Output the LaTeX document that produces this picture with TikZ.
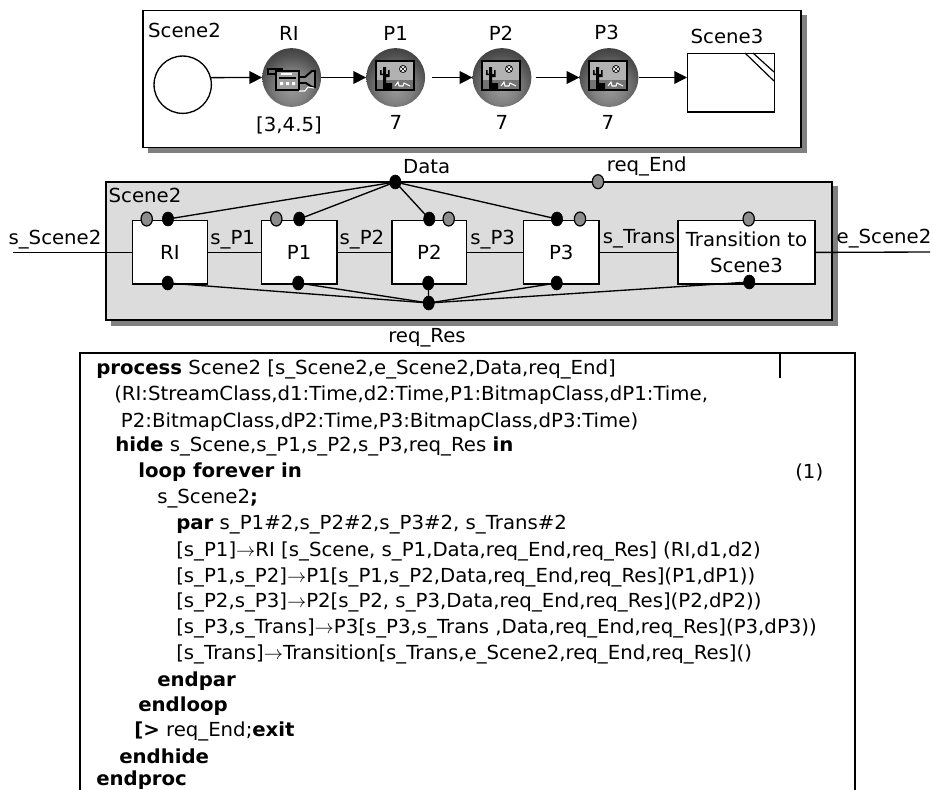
\documentclass[tikz,border=0pt]{standalone}
\usepackage{fontspec}
\setmainfont{DejaVu Sans}[FakeStretch=1.02]
\usetikzlibrary{arrows.meta,shapes.geometric}
\definecolor{portgray}{HTML}{8C8C8C}
\definecolor{shadowgray}{HTML}{808080}
\definecolor{panelgray}{HTML}{DCDCDC}
\pgfdeclareradialshading{ballsh}{\pgfpoint{0bp}{-10bp}}{color(0bp)=(black!40); color(14bp)=(black!50); color(26bp)=(black!68); color(40bp)=(black!82); color(100bp)=(black!85)}
\newcommand{\tsz}{\fontsize{14.5pt}{19pt}\selectfont}
\tikzset{
  panel/.style={draw=black,line width=1.4pt},
  flow/.style={draw=black,line width=1pt,-{Triangle[length=9.5pt,width=9.5pt]}},
  wire/.style={draw=black,line width=1pt},
  ball/.style={circle,minimum size=44pt,inner sep=0pt,shading=ballsh},
  pbox/.style={draw=black,line width=1.1pt,fill=white,inner sep=0pt,align=center,minimum height=47.5pt,font=\tsz},
  bport/.style={ellipse,fill=black,draw=black,inner sep=0pt,minimum width=8.5pt,minimum height=10.5pt},
  gport/.style={ellipse,fill=portgray,draw=black,line width=.9pt,inner sep=0pt,minimum width=8.5pt,minimum height=10.5pt},
  lab/.style={font=\tsz,inner sep=0pt},
  code/.style={font=\tsz,inner sep=0pt,anchor=base west},
}
\newcommand{\picicon}[1]{%
  \begin{scope}[shift={(#1)}]
    \fill[black] (-20,-17) rectangle (20,14);
    \fill[black!30] (-18,-15) rectangle (18,3);
    \fill[black!55] (-18,3) rectangle (18,12);
    \fill[black] (-12,12) -- (-12,-2) -- (-15,-2) -- (-15,-7) -- (-13.5,-7) -- (-13.5,-3.5) -- (-12,-3.5) -- (-12,-10) -- (-9,-10) -- (-9,-3) -- (-7,-3) -- (-7,-7) -- (-5.5,-7) -- (-5.5,0) -- (-9,0) -- (-9,6) -- (-3,6) -- (-3,12) -- cycle;
    \draw[black,line width=.6pt,fill=white] (8,-8) circle (3.5);
    \draw[black,line width=.5pt] (6,-10) -- (10,-6) (6,-6) -- (10,-10);
    \draw[white,line width=.8pt] (0,9) -- (3,5) -- (4,9) -- (8,9) -- (9,6) -- (15,9);
  \end{scope}}
\newcommand{\camicon}[1]{%
  \begin{scope}[shift={(#1)}]
    \draw[black,line width=1.2pt,fill=black!55] (-23,-8) rectangle (-9,-3);
    \draw[black,line width=1.4pt,fill=black!38] (-15,-6) rectangle (8,13);
    \fill[white] (-11,5) rectangle (-8,8) (-5,5) rectangle (-2,8) (1,5) rectangle (4,8);
    \fill[black] (-12,0) rectangle (5,2);
    \fill[white] (-10,-4) rectangle (1,-2);
    \draw[black,line width=1.4pt,fill=black!45] (8,0) -- (14,0) -- (21,-6) -- (24,-6) -- (24,10) -- (21,10) -- (15,6) -- (8,6) -- cycle;
    \draw[white,line width=.8pt] (8,14) -- (14,14) -- (17,10) -- (23,11);
  \end{scope}}
\begin{document}
\begin{tikzpicture}[x=.75pt,y=-.75pt]
\useasboundingbox (0,0) rectangle (933,790);
% top panel
\fill[shadowgray] (148,15) rectangle (806.5,153);
\node[panel,fill=white,minimum width=493.5pt,minimum height=102.8pt,inner sep=0pt,anchor=north west] (toppanel) at (142,9.5) {};
\node[lab] (tsc2) at (184.5,30.5) {Scene2};
\node[lab] (tri) at (289,33.5) {RI};
\node[lab] (tp1) at (395.7,33) {P1};
\node[lab] (tp2) at (501,33) {P2};
\node[lab] (tp3) at (606.7,32) {P3};
\node[lab] (tsc3) at (727,36.7) {Scene3};
\node[draw=black,line width=1pt,circle,fill=white,minimum size=43pt,inner sep=0pt] (s2) at (182.7,84.7) {};
\node[ball] (ri) at (291.7,77.5) {};
\node[ball] (p1) at (395.7,77.5) {};
\node[ball] (p2) at (502,77.5) {};
\node[ball] (p3) at (609,77.5) {};
\camicon{291,77}
\picicon{395,77}
\picicon{501,77}
\picicon{608,77}
\node[lab] (dri) at (289,125) {[3,4.5]};
\node[lab] (d1) at (396,122) {7};
\node[lab] (d2) at (502,122) {7};
\node[lab] (d3) at (608,122) {7};
\node[draw=black,line width=1.1pt,fill=white,minimum width=65pt,minimum height=44pt,inner sep=0pt,anchor=north west] (sc3) at (687,52.7) {};
\draw[black,line width=.9pt] (745,53) -- (774,81) (753,53) -- (774,72);
\draw[flow] (s2.14) -- (ri.west);
\draw[flow] (ri.east) -- (p1.west);
\draw[flow] ([xshift=5pt]p1.east) -- (p2.west);
\draw[flow] ([xshift=3pt]p2.east) -- (p3.west);
\draw[flow] (p3.east) -- (sc3.west |- p3.east);
% middle panel
\fill[shadowgray] (110.5,186) rectangle (838,326);
\node[draw=black,line width=1.2pt,fill=panelgray,minimum width=544.5pt,minimum height=103.5pt,inner sep=0pt,anchor=north west] (midpanel) at (105.3,181.3) {};
\coordinate (inL) at (13,252.5);
\coordinate (outR) at (930,252);
\node[pbox,minimum width=56.2pt,anchor=north west] (bri) at (131.7,220) {RI};
\node[pbox,minimum width=56.5pt,anchor=north west] (bp1) at (260.7,220) {P1};
\node[pbox,minimum width=56pt,anchor=north west] (bp2) at (391.3,220) {P2};
\node[pbox,minimum width=56.7pt,anchor=north west] (bp3) at (522.7,220) {P3};
\node[pbox,minimum width=102.7pt,anchor=north west] (btr) at (677.3,220) {Transition to\\Scene3};
\draw[wire] (inL) -- (bri.west |- inL);
\draw[wire] (bri.east) -- (bp1.west);
\draw[wire] (bp1.east) -- (bp2.west);
\draw[wire] (bp2.east) -- (bp3.west);
\draw[wire] (bp3.east) -- (btr.west);
\draw[wire] (btr.east) -- (outR);
\node[lab] (ls) at (55,240) {s\_Scene2};
\node[lab] (lp1) at (232.7,239.5) {s\_P1};
\node[lab] (lp2) at (362,239.5) {s\_P2};
\node[lab] (lp3) at (492.7,239.5) {s\_P3};
\node[lab] (ltr) at (639,238.5) {s\_Trans};
\node[lab] (le) at (884,238.5) {e\_Scene2};
\node[lab] (lsc) at (145,195.7) {Scene2};
\node[lab] (ldata) at (426.7,166.7) {Data};
\node[lab] (lend) at (646.7,166) {req\_End};
\node[lab] (lres) at (427,338) {req\_Res};
\node[bport] (data) at (395.3,182) {};
\node[gport] (rend) at (598,181.7) {};
\node[gport] (g1) at (146.7,219) {};
\node[bport] (k1) at (168,219) {};
\node[bport] (b1) at (167.7,283) {};
\node[gport] (g2) at (276.3,219) {};
\node[bport] (k2) at (299.3,219) {};
\node[bport] (b2) at (298.3,283) {};
\node[bport] (k3) at (429.3,219) {};
\node[gport] (g3) at (448.7,219) {};
\node[bport] (b3) at (428.3,283) {};
\node[bport] (k4) at (557,219) {};
\node[gport] (g4) at (580,219) {};
\node[bport] (b4) at (556.7,283) {};
\node[gport] (g5) at (748.7,219) {};
\node[bport] (b5) at (749.3,282) {};
\node[bport] (res) at (428.7,303) {};
\foreach \k in {k1,k2,k3,k4}{\draw[wire] (data.center) -- (\k.center);}
\foreach \k in {b1,b2,b3,b4,b5}{\draw[wire] (res.center) -- (\k.center);}
% code panel
\coordinate (cTL) at (80,353);
\coordinate (cTR) at (855,353);
\coordinate (cBL) at (80,790);
\coordinate (cBR) at (855,790);
\coordinate (tick) at (780,353);
\coordinate (tickb) at (780,378);
\draw[panel] (cBL) -- (cTL) -- (cTR) -- (cBR);
\draw[panel] (tick) -- (tickb);
\node[code] (c1) at (96,374) {\textbf{process} Scene2 [s\_Scene2,e\_Scene2,Data,req\_End]};
\node[code] (c2) at (114,400) {(RI:StreamClass,d1:Time,d2:Time,P1:BitmapClass,dP1:Time,};
\node[code] (c3) at (120.7,427) {P2:BitmapClass,dP2:Time,P3:BitmapClass,dP3:Time)};
\node[code] (c4) at (115,451) {\textbf{hide} s\_Scene,s\_P1,s\_P2,s\_P3,req\_Res \textbf{in}};
\node[code] (c5) at (138,477) {\textbf{loop forever in}};
\node[code] (c6) at (157,503) {s\_Scene2\textbf{;}};
\node[code] (c7) at (176,529) {\textbf{par} s\_P1\#2,s\_P2\#2,s\_P3\#2, s\_Trans\#2};
\node[code] (c8) at (176,556) {[s\_P1]$\rightarrow$RI [s\_Scene, s\_P1,Data,req\_End,req\_Res] (RI,d1,d2)};
\node[code] (c9) at (176,582) {[s\_P1,s\_P2]$\rightarrow$P1[s\_P1,s\_P2,Data,req\_End,req\_Res](P1,dP1))};
\node[code] (c10) at (176,607) {[s\_P2,s\_P3]$\rightarrow$P2[s\_P2, s\_P3,Data,req\_End,req\_Res](P2,dP2))};
\node[code] (c11) at (176,633) {[s\_P3,s\_Trans]$\rightarrow$P3[s\_P3,s\_Trans ,Data,req\_End,req\_Res](P3,dP3))};
\node[code] (c12) at (176,659) {[s\_Trans]$\rightarrow$Transition[s\_Trans,e\_Scene2,req\_End,req\_Res]()};
\node[code] (c13) at (157,686) {\textbf{endpar}};
\node[code] (c14) at (138,711) {\textbf{endloop}};
\node[code] (c15) at (134,736) {\textbf{[>} req\_End;\textbf{exit}};
\node[code] (c16) at (119,763) {\textbf{endhide}};
\node[code] (c17) at (96,785) {\textbf{endproc}};
\node[code] (c18) at (795,478) {(1)};
\end{tikzpicture}
\end{document}
